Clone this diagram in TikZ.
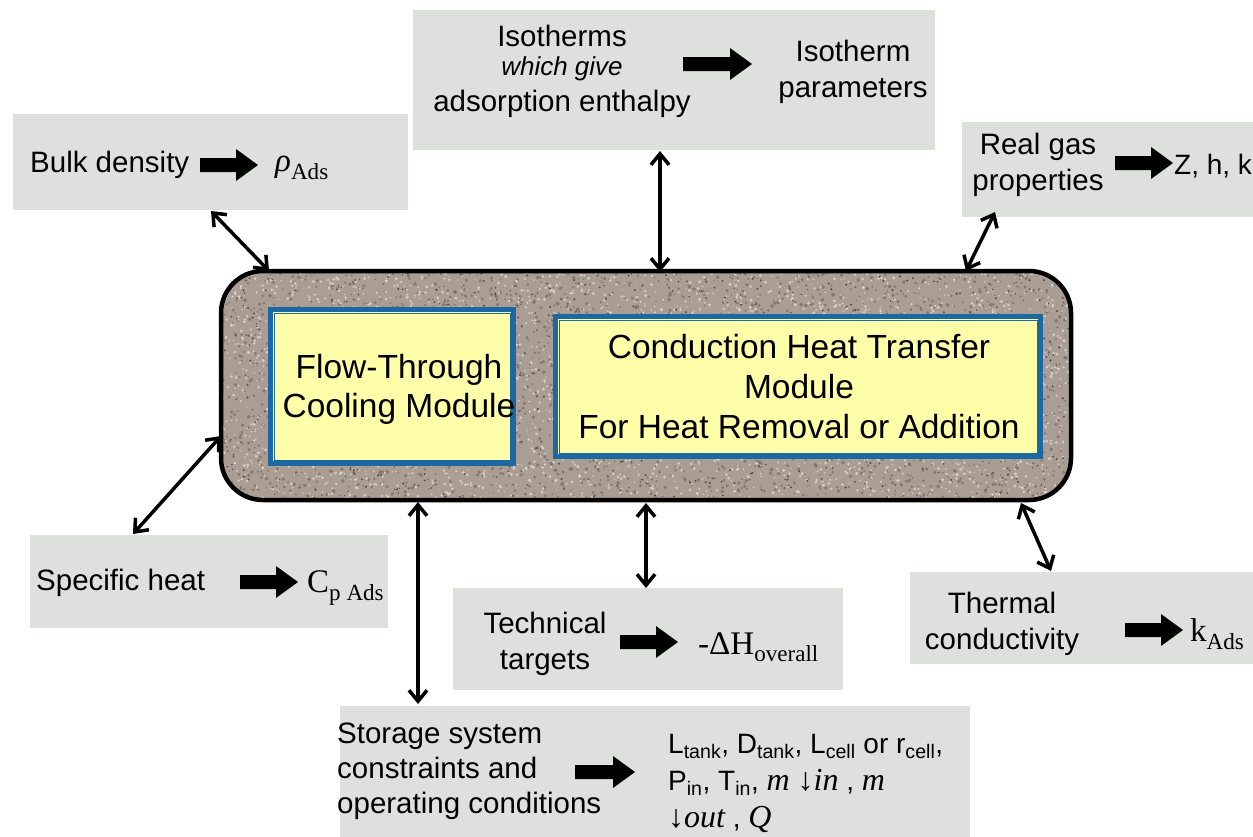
\documentclass[tikz,border=0pt]{standalone}
\usepackage{fontspec}
\setmainfont{Liberation Sans}
\newfontfamily\tms{Liberation Serif}
\usetikzlibrary{arrows.meta,calc}
\definecolor{boxgray}{RGB}{221,224,221}
\definecolor{granite}{RGB}{170,157,148}
\definecolor{speckL}{RGB}{215,208,199}
\definecolor{speckM}{RGB}{132,120,112}
\definecolor{speckD}{RGB}{85,76,70}
\definecolor{modblue}{RGB}{28,104,160}
\definecolor{modyellow}{RGB}{255,255,170}
\tikzset{
  sidebox/.style={fill=boxgray, draw=none, inner sep=0pt},
  lbl/.style={inner sep=0pt, align=center, font=\fontsize{29.5}{36}\selectfont},
  sym/.style={anchor=west, inner sep=0pt, font=\tms\fontsize{33}{36}\selectfont},
  conn/.style={{Straight Barb[length=11pt,width=18pt,line width=3.5pt]}-{Straight Barb[length=11pt,width=18pt,line width=3.5pt]}, line width=3.5pt},
  modbox/.style={fill=modyellow, draw=modblue, line width=5pt, inner sep=0pt},
  modtxt/.style={inner sep=0pt, align=center, font=\fontsize{33.5}{39}\selectfont},
}
\newcommand{\blockarr}[3]{\fill[black] (#1,#3-7) -- (#2-22,#3-7) -- (#2-22,#3-16) -- (#2,#3) -- (#2-22,#3+16) -- (#2-22,#3+7) -- (#1,#3+7) -- cycle;}
\newcommand{\mi}[1]{{\tms\itshape\fontsize{32}{30}\selectfont #1}}
\begin{document}
\begin{tikzpicture}[x=1pt,y=-1pt]
\useasboundingbox (0,0) rectangle (1253,836);
% side boxes
\fill[sidebox] (413,10) rectangle (935,150);
\fill[sidebox] (13,114) rectangle (408,210);
\fill[sidebox] (962,122) rectangle (1260,217);
\fill[sidebox] (30,535) rectangle (388,628);
\fill[sidebox] (453,588) rectangle (843,690);
\fill[sidebox] (910,572) rectangle (1260,664);
\fill[sidebox] (340,706) rectangle (970,840);
% central textured box
\begin{scope}
\clip[rounded corners=42pt] (221,271) rectangle (1071,500);
\fill[granite] (221,271) rectangle (1071,500);
\pgfmathsetseed{7}
\foreach \i in {1,...,2200} {\fill[speckM] ({221+850*rnd},{271+229*rnd}) circle ({0.8+1.2*rnd});}
\foreach \i in {1,...,3200} {\fill[speckL] ({221+850*rnd},{271+229*rnd}) circle ({0.6+1.0*rnd});}
\foreach \i in {1,...,1400} {\fill[speckD] ({221+850*rnd},{271+229*rnd}) circle ({0.5+0.7*rnd});}
\end{scope}
\node[draw=black, line width=4.5pt, rounded corners=42pt, minimum width=850pt, minimum height=229pt, inner sep=0pt] (core) at (646,385.5) {};
% modules
\node[modbox, minimum width=243pt, minimum height=154pt] (flow) at (392,386.5) {};
\draw[modblue, line width=0.8pt] ($(flow.south west)+(6,-6)$) rectangle ($(flow.north east)+(-6,6)$);
\node[modbox, minimum width=485pt, minimum height=140pt] (cond) at (798,386.5) {};
\draw[modblue, line width=0.8pt] ($(cond.south west)+(6,-6)$) rectangle ($(cond.north east)+(-6,6)$);
\node[modtxt] (flowt) at (399,389) {Flow-Through\\Cooling Module};
\node[modtxt, font=\fontsize{33.5}{40}\selectfont] (condt) at (799,387) {Conduction Heat Transfer\\Module\\For Heat Removal or Addition};
% isotherm box content
\node[lbl] (iso1) at (562,36) {Isotherms};
\node[inner sep=0pt, font=\fontsize{26}{28}\selectfont\itshape] (iso2) at (562,69) {which give};
\node[lbl] (iso3) at (562,104) {adsorption enthalpy};
\node[lbl] (isop) at (853,72) {Isotherm\\parameters};
\blockarr{683}{752}{64}
% bulk
\node[lbl, anchor=west] (bulk) at (30,165) {Bulk density};
\blockarr{200}{258}{165}
\node[sym] (rho) at (275,168) {{\itshape ρ}\textsubscript{Ads}};
% real gas
\node[lbl] (real) at (1038,165) {Real gas\\properties};
\blockarr{1115}{1173}{163}
\node[lbl, anchor=west, font=\fontsize{28}{30}\selectfont] (zhk) at (1174,166) {Z, h, k};
% specific heat
\node[lbl, anchor=west] (spec) at (36,583) {Specific heat};
\blockarr{240}{298}{582}
\node[sym] (cp) at (307,588) {C\textsubscript{p Ads}};
% technical
\node[lbl] (tech) at (545,644) {Technical\\targets};
\blockarr{620}{678}{642}
\node[sym] (dh) at (698,647) {-ΔH\textsubscript{overall}};
% thermal
\node[lbl] (therm) at (1002,624) {Thermal\\conductivity};
\blockarr{1125}{1183}{630}
\node[sym] (kads) at (1190,634) {k\textsubscript{Ads}};
% storage
\node[lbl, anchor=west, align=left, font=\fontsize{29.5}{35}\selectfont] (stor) at (337,771) {Storage system\\constraints and\\operating conditions};
\blockarr{575}{635}{772}
\node[anchor=west, align=left, inner sep=0pt, font=\fontsize{28}{37}\selectfont] (params) at (668,783) {L\textsubscript{tank}, D\textsubscript{tank}, L\textsubscript{cell} or r\textsubscript{cell},\\P\textsubscript{in}, T\textsubscript{in}, \mi{m ↓in} , \mi{m}\\\mi{↓out} , \mi{Q}};
% connector endpoints
\coordinate (b1) at (211,211); \coordinate (b2) at (269,271);
\coordinate (i1) at (660,151); \coordinate (i2) at (660,272);
\coordinate (r1) at (995,212); \coordinate (r2) at (966,271);
\coordinate (s1) at (133,534); \coordinate (s2) at (221,436);
\coordinate (t1) at (646,503); \coordinate (t2) at (646,588);
\coordinate (k1) at (1021,503); \coordinate (k2) at (1051,571);
\coordinate (o1) at (418,502); \coordinate (o2) at (418,704);
\draw[conn] (b1) -- (b2);
\draw[conn] (i1) -- (i2);
\draw[conn] (r1) -- (r2);
\draw[conn] (s1) -- (s2);
\draw[conn] (t1) -- (t2);
\draw[conn] (k1) -- (k2);
\draw[conn] (o1) -- (o2);
\end{tikzpicture}
\end{document}
